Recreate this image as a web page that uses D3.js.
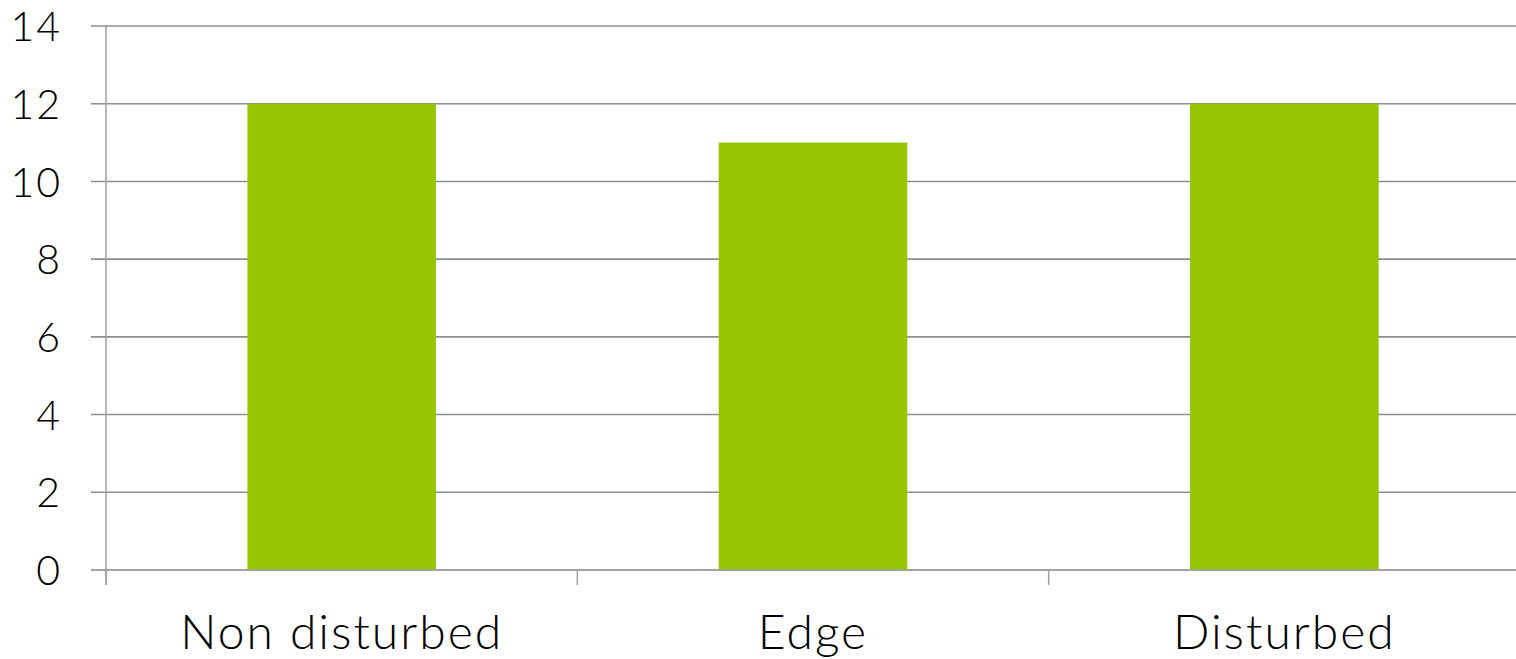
<!DOCTYPE html>
<html><head><meta charset="utf-8">
<script src="https://cdn.jsdelivr.net/npm/d3@7"></script>
<style>html,body{margin:0;padding:0;background:#fff;}svg{display:block;}</style>
</head><body>
<svg id="chart" width="1516" height="659"></svg>
<script>
const categories = ["Non disturbed", "Edge", "Disturbed"];
const values = [12, 11, 12];
const yTicks = [0, 2, 4, 6, 8, 10, 12, 14];

(function () {
const svg = d3.select("#chart");
const mLeft = 106, mRight = 1520, mTop = 26, mBottom = 570;
const font = "Lato, 'Open Sans', sans-serif";

const x = d3.scaleBand().domain(categories).range([mLeft, mRight]).paddingInner(0.6).paddingOuter(0.3);
const xOuter = d3.scaleBand().domain(categories).range([mLeft, mRight]).padding(0);
const y = d3.scaleLinear().domain([0, 14]).range([mBottom, mTop]);

svg.append("g").selectAll("line").data(yTicks).join("line")
  .attr("x1", mLeft - 15).attr("x2", 1516)
  .attr("y1", d => y(d)).attr("y2", d => y(d))
  .attr("stroke", "#8e8e8e").attr("stroke-width", 1.6);

svg.append("line").attr("x1", mLeft).attr("x2", mLeft).attr("y1", mTop).attr("y2", mBottom + 15)
  .attr("stroke", "#a0a0a0").attr("stroke-width", 1.5);

svg.append("g").selectAll("rect").data(categories).join("rect")
  .attr("x", d => x(d)).attr("width", x.bandwidth())
  .attr("y", (d, i) => y(values[i])).attr("height", (d, i) => y(0) - y(values[i]))
  .attr("fill", "#95c600");

svg.append("line").attr("x1", mLeft - 15).attr("x2", 1516).attr("y1", mBottom).attr("y2", mBottom)
  .attr("stroke", "#a0a0a0").attr("stroke-width", 1.6);

svg.append("g").selectAll("line").data(categories).join("line")
  .attr("x1", d => xOuter(d)).attr("x2", d => xOuter(d)).attr("y1", mBottom).attr("y2", mBottom + 15)
  .attr("stroke", "#a0a0a0").attr("stroke-width", 1.5);

svg.append("g").selectAll("text").data(yTicks).join("text")
  .attr("x", 62).attr("y", d => y(d)).attr("dy", "0.37em")
  .attr("text-anchor", "end").attr("font-family", font).attr("font-weight", 300)
  .attr("font-size", 41).attr("letter-spacing", 2)
  .attr("fill", "#000").text(d => d);

svg.append("g").selectAll("text").data(categories).join("text")
  .attr("x", d => x(d) + x.bandwidth() / 2).attr("y", 649)
  .attr("text-anchor", "middle").attr("font-family", font).attr("font-weight", 300)
  .attr("font-size", 48).attr("letter-spacing", 2)
  .attr("fill", "#000").text(d => d);
})();
</script>
</body></html>
